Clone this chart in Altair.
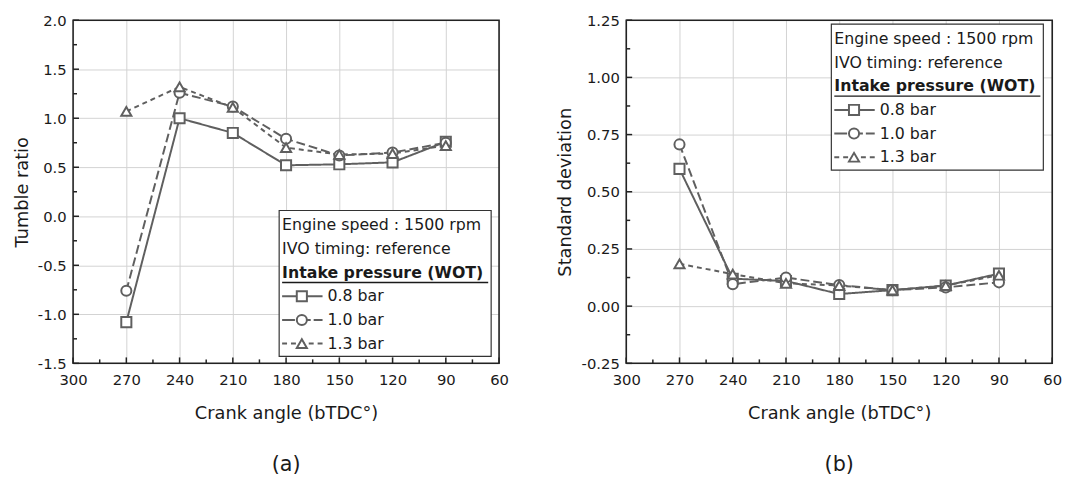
import altair as alt
import pandas as pd

angles = [270, 240, 210, 180, 150, 120, 90]
series_names = ["0.8 bar", "1.0 bar", "1.3 bar"]

tumble_08 = [-1.08, 1.00, 0.85, 0.52, 0.53, 0.55, 0.76]
tumble_10 = [-0.76, 1.26, 1.12, 0.79, 0.62, 0.65, 0.75]
tumble_13 = [1.07, 1.32, 1.11, 0.70, 0.63, 0.64, 0.72]

std_08 = [0.60, 0.12, 0.11, 0.053, 0.07, 0.09, 0.142]
std_10 = [0.707, 0.096, 0.125, 0.092, 0.07, 0.082, 0.104]
std_13 = [0.185, 0.14, 0.10, 0.09, 0.07, 0.09, 0.135]

x_ticks = [300, 270, 240, 210, 180, 150, 120, 90, 60]
x_minor = [285, 255, 225, 195, 165, 135, 105, 75]
tumble_ticks = [-1.5, -1.0, -0.5, 0.0, 0.5, 1.0, 1.5, 2.0]
tumble_minor = [-1.25, -0.75, -0.25, 0.25, 0.75, 1.25, 1.75]
std_ticks = [-0.25, 0.0, 0.25, 0.5, 0.75, 1.0, 1.25]
std_minor = [-0.125, 0.125, 0.375, 0.625, 0.875, 1.125]

legend_lines = ["Engine speed : 1500 rpm", "IVO timing: reference"]
legend_head = "Intake pressure (WOT)"

W, H = 432, 348
GREY = "#5f5f5f"
FONT = "DejaVu Sans"
dashes = [[1, 0], [9, 4], [5, 4]]
legend_dashes = [[1, 0], [13, 3], [5, 4]]
shapes = ["square", "circle", "triangle-up"]


def long_df(vals):
    rows = []
    for name, v in zip(series_names, vals):
        for a, y in zip(angles, v):
            rows.append({"angle": a, "value": y, "series": name})
    return pd.DataFrame(rows)


def panel(vals, ytitle, ydom, yt, ym, fmt, lx, ly, caption, ytp):
    df = long_df(vals)
    xs = alt.Scale(domain=[60, 300], reverse=True, nice=False, zero=False)
    ys = alt.Scale(domain=ydom, nice=False, zero=False)
    common = dict(grid=True, tickSize=0, domain=False, labelFlush=False,
                  labelFont=FONT, titleFont=FONT, labelFontSize=15, titleFontSize=18,
                  labelColor="#1a1a1a", titleColor="#1a1a1a", titleFontWeight="normal",
                  gridColor="#d2d2d2", gridWidth=1)
    xax = alt.Axis(values=x_ticks, title="Crank angle (bTDC°)", labelPadding=9, titlePadding=18, **common)
    yexpr = f"datum.value < 0 ? '-' + format(-datum.value, '{fmt}') : format(datum.value, '{fmt}')"
    yax = alt.Axis(values=yt, title=ytitle, labelPadding=7, titlePadding=ytp, labelExpr=yexpr, **common)
    X = alt.X("angle:Q", scale=xs, axis=xax)
    Y = alt.Y("value:Q", scale=ys, axis=yax)
    base = alt.Chart(df)
    lines = base.mark_line(color=GREY, strokeWidth=2).encode(
        x=X, y=Y,
        strokeDash=alt.StrokeDash("series:N", scale=alt.Scale(domain=series_names, range=dashes), legend=None),
        detail="series:N",
    )
    pts = base.mark_point(color=GREY, fill="white", filled=False, strokeWidth=2, size=105, opacity=1).encode(
        x=X, y=Y,
        shape=alt.Shape("series:N", scale=alt.Scale(domain=series_names, range=shapes), legend=None),
    )
    # inside ticks
    xt_major = alt.Chart(pd.DataFrame({"angle": x_ticks})).mark_rule(color="#222", strokeWidth=1.5).encode(
        x=X, y=alt.value(H), y2=alt.value(H - 6))
    xt_minor = alt.Chart(pd.DataFrame({"angle": x_minor})).mark_rule(color="#222", strokeWidth=1.5).encode(
        x=X, y=alt.value(H), y2=alt.value(H - 4))
    yt_major = alt.Chart(pd.DataFrame({"value": yt})).mark_rule(color="#222", strokeWidth=1.5).encode(
        y=Y, x=alt.value(0), x2=alt.value(6))
    yt_minor = alt.Chart(pd.DataFrame({"value": ym})).mark_rule(color="#222", strokeWidth=1.5).encode(
        y=Y, x=alt.value(0), x2=alt.value(4))
    frame = alt.Chart(pd.DataFrame({"k": [0]})).mark_rect(fill=None, stroke="#222", strokeWidth=1.6).encode(
        x=alt.value(0), x2=alt.value(W), y=alt.value(0), y2=alt.value(H))

    # legend box
    box = alt.Chart(pd.DataFrame({"k": [0]})).mark_rect(fill="white", stroke="#333", strokeWidth=1.2).encode(
        x=alt.value(lx), x2=alt.value(lx + 215), y=alt.value(ly), y2=alt.value(ly + 148))
    layers = [box]
    step = 24
    tx = lx + 3
    ty = ly + 15
    fs = 16
    for i, t in enumerate(legend_lines):
        layers.append(alt.Chart(pd.DataFrame({"t": [t]})).mark_text(
            align="left", baseline="middle", font=FONT, fontSize=fs, color="#1a1a1a").encode(
            text="t:N", x=alt.value(tx), y=alt.value(ty + i * step)))
    layers.append(alt.Chart(pd.DataFrame({"t": [legend_head]})).mark_text(
        align="left", baseline="middle", font=FONT, fontSize=16, fontWeight="bold", color="#1a1a1a").encode(
        text="t:N", x=alt.value(tx), y=alt.value(ty + 2 * step)))
    layers.append(alt.Chart(pd.DataFrame({"k": [0]})).mark_rule(color="#1a1a1a", strokeWidth=1.5).encode(
        x=alt.value(tx), x2=alt.value(lx + 212), y=alt.value(ty + 2 * step + 10)))
    for i, name in enumerate(series_names):
        yy = ty + (3 + i) * step
        layers.append(alt.Chart(pd.DataFrame({"k": [0]})).mark_rule(
            color=GREY, strokeWidth=2, strokeDash=legend_dashes[i]).encode(
            x=alt.value(tx), x2=alt.value(tx + 41), y=alt.value(yy)))
        layers.append(alt.Chart(pd.DataFrame({"k": [0]})).mark_point(
            color=GREY, fill="white", filled=False, strokeWidth=2, size=105, opacity=1, shape=shapes[i]).encode(
            x=alt.value(tx + 20), y=alt.value(yy)))
        layers.append(alt.Chart(pd.DataFrame({"t": [name]})).mark_text(
            align="left", baseline="middle", font=FONT, fontSize=fs, color="#1a1a1a").encode(
            text="t:N", x=alt.value(tx + 46), y=alt.value(yy)))

    return alt.layer(lines, pts, xt_major, xt_minor, yt_major, yt_minor, frame, *layers).properties(
        width=W, height=H,
        title=alt.TitleParams(caption, orient="bottom", fontSize=21, font=FONT, fontWeight="normal",
                              color="#1a1a1a", offset=32, anchor="middle"),
    )


left = panel([tumble_08, tumble_10, tumble_13], "Tumble ratio", [-1.5, 2.0], tumble_ticks, tumble_minor,
             ".1f", 209, 193, "(a)", 6)
right = panel([std_08, std_10, std_13], "Standard deviation", [-0.25, 1.25], std_ticks, std_minor,
              ".2f", 208, 4, "(b)", 7)

chart = alt.hconcat(left, right, spacing=48).properties(
    background="white", padding={"left": 5, "top": 2, "right": 5, "bottom": 5}
).configure_view(stroke=None)

chart.save("out.html", embed_options={"renderer": "svg", "actions": False})
